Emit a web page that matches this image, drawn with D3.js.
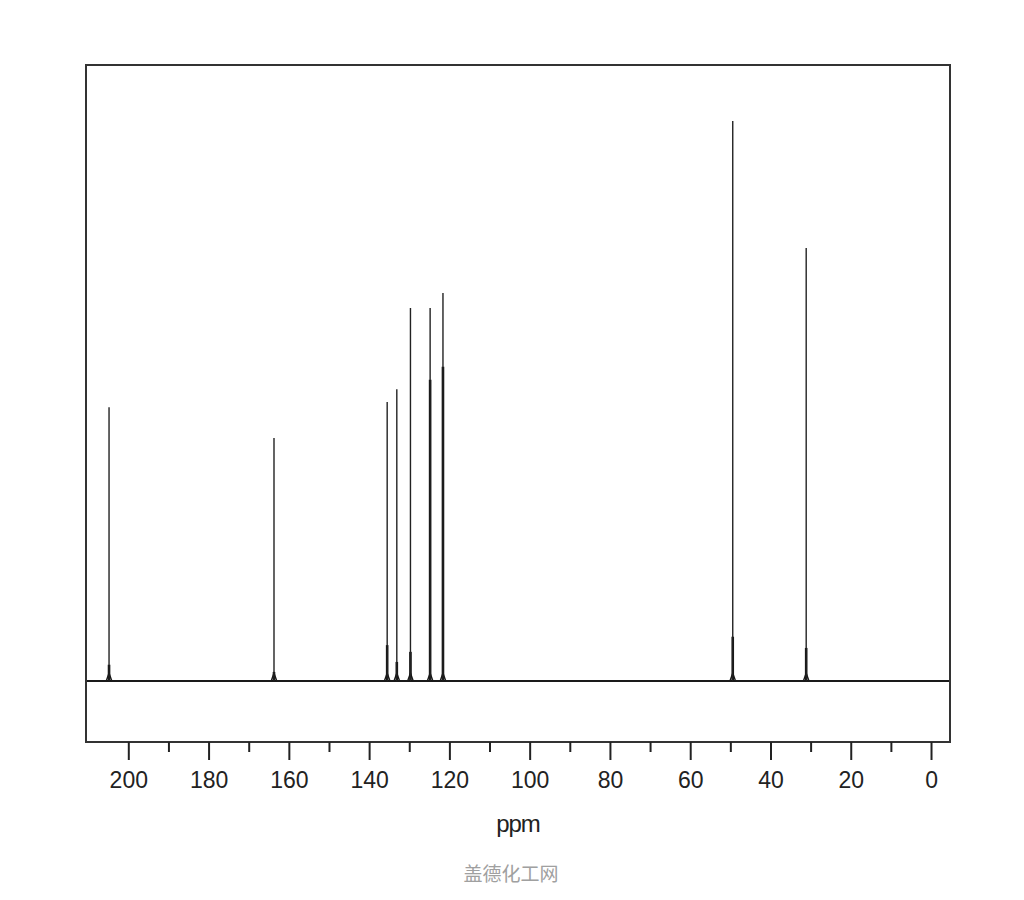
<!DOCTYPE html>
<html>
<head>
<meta charset="utf-8">
<script src="https://cdn.jsdelivr.net/npm/d3@7"></script>
<style>
  body { margin: 0; background: #fff; }
  svg { display: block; }
</style>
</head>
<body>
<svg id="canvas" width="1024" height="900"></svg>
<script>
// peak positions (ppm) and heights (relative, tallest = 100)
let peakPpm    = [204.8, 163.7, 135.5, 133.1, 129.7, 124.8, 121.6, 49.4, 31.1]
let peakHeight = [48.9, 43.4, 49.8, 52.1, 66.6, 66.6, 69.3, 100, 77.3]
// height up to which the line looks heavier (unresolved second line / foot)
let peakThick  = [2.9, 1.6, 6.4, 3.4, 5.2, 53.8, 56.1, 7.9, 5.9]

let majorTicks = [200, 180, 160, 140, 120, 100, 80, 60, 40, 20, 0]
let minorTicks = [190, 170, 150, 130, 110, 90, 70, 50, 30, 10]
let xLabel = 'ppm'
let watermark = '盖德化工网'

let svg = d3.select('#canvas')

let frameLeft = 86, frameRight = 950, frameTop = 65, frameBottom = 742

// ppm runs right to left
let x = d3.scaleLinear().domain([210.54, -4.73]).range([frameLeft, frameRight])
let y = d3.scaleLinear().domain([-10.9, 110]).range([frameBottom, frameTop])

let peaks = peakPpm.map((p, i) => ({ ppm: p, h: peakHeight[i], thick: peakThick[i] }))

let plot = svg.append('g')

// baseline
plot.append('line')
  .attr('x1', x(210.54)).attr('x2', x(-4.73))
  .attr('y1', y(0)).attr('y2', y(0))
  .attr('stroke', '#1a1a1a')
  .attr('stroke-width', 2)

// small foot of each peak
let bump = d3.line().x(d => x(d[0])).y(d => y(d[1]))
plot.selectAll('path.foot')
  .data(peaks)
  .enter()
  .append('path')
  .attr('class', 'foot')
  .attr('d', d => bump([[d.ppm + 0.7, 0], [d.ppm + 0.3, 0.8], [d.ppm, 1.4], [d.ppm - 0.3, 0.8], [d.ppm - 0.7, 0]]))
  .attr('fill', 'none')
  .attr('stroke', '#1a1a1a')
  .attr('stroke-width', 1.4)

// heavy lower part
plot.selectAll('line.thick')
  .data(peaks)
  .enter()
  .append('line')
  .attr('class', 'thick')
  .attr('x1', d => x(d.ppm)).attr('x2', d => x(d.ppm))
  .attr('y1', y(0)).attr('y2', d => y(d.thick))
  .attr('stroke', '#111')
  .attr('stroke-width', 2.6)

// thin full-height line
plot.selectAll('line.peak')
  .data(peaks)
  .enter()
  .append('line')
  .attr('class', 'peak')
  .attr('x1', d => x(d.ppm)).attr('x2', d => x(d.ppm))
  .attr('y1', y(0)).attr('y2', d => y(d.h))
  .attr('stroke', '#222')
  .attr('stroke-width', 1.4)

// frame
svg.append('rect')
  .attr('x', frameLeft).attr('y', frameTop)
  .attr('width', frameRight - frameLeft).attr('height', frameBottom - frameTop)
  .attr('fill', 'none')
  .attr('stroke', '#333')
  .attr('stroke-width', 2)

// axis
let majorAxis = d3.axisBottom(x).tickValues(majorTicks).tickSize(18).tickSizeOuter(0).tickFormat(d3.format('d'))
let minorAxis = d3.axisBottom(x).tickValues(minorTicks).tickSize(10).tickSizeOuter(0).tickFormat('')

let gMinor = svg.append('g').attr('transform', `translate(0,${frameBottom})`).call(minorAxis)
let gMajor = svg.append('g').attr('transform', `translate(0,${frameBottom})`).call(majorAxis)

svg.selectAll('.domain').remove()
svg.selectAll('.tick line').attr('stroke', '#222').attr('stroke-width', 2)
gMajor.selectAll('.tick text')
  .attr('y', 30)
  .attr('fill', '#222')
  .style('font-family', '"Liberation Sans", Arial, sans-serif')
  .style('font-size', '23px')

svg.append('text')
  .attr('x', 518).attr('y', 832)
  .attr('text-anchor', 'middle')
  .attr('fill', '#222')
  .style('font-family', '"Liberation Sans", Arial, sans-serif')
  .style('font-size', '24px')
  .style('letter-spacing', '-1px')
  .text(xLabel)

svg.append('text')
  .attr('x', 511).attr('y', 881)
  .attr('text-anchor', 'middle')
  .attr('fill', '#a0a0a0')
  .style('font-family', '"Noto Sans CJK SC", sans-serif')
  .style('font-size', '19px')
  .text(watermark)
</script>
</body>
</html>
